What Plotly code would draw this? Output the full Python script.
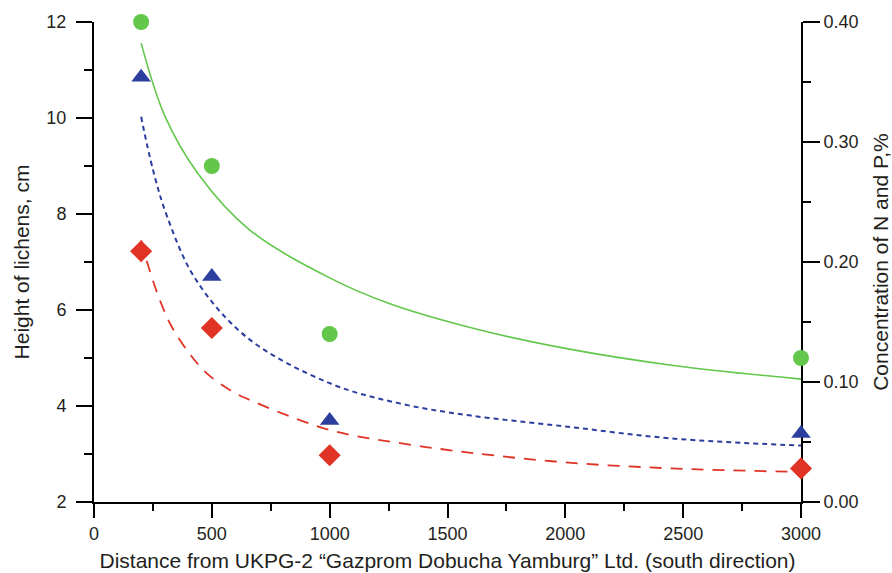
import plotly.graph_objects as go

# Measured points
distance = [200, 500, 1000, 3000]
height_lichens = [12.0, 9.0, 5.5, 5.0]          # left axis, cm
conc_blue = [0.354, 0.188, 0.068, 0.057]        # right axis, %
conc_red = [0.209, 0.145, 0.039, 0.028]         # right axis, %

# Trend curves
green_fit_x = [200, 300, 440, 660, 1000, 1250, 1600, 2000, 2450, 3000]
green_fit_y = [11.56, 10.05, 8.85, 7.67, 6.67, 6.14, 5.63, 5.2, 4.85, 4.56]
blue_fit_x = [200, 250, 310, 430, 650, 1000, 1300, 1600, 2000, 2450, 3000]
blue_fit_y = [0.321, 0.277, 0.238, 0.186, 0.137, 0.099, 0.082, 0.072, 0.063, 0.053, 0.047]
red_fit_x = [200, 225, 280, 330, 400, 480, 580, 650, 1000, 1300, 1600, 2000, 2450, 3000]
red_fit_y = [0.218, 0.200, 0.168, 0.146, 0.125, 0.107, 0.093, 0.086, 0.060, 0.049,
             0.041, 0.033, 0.028, 0.025]

x_ticks = [0, 500, 1000, 1500, 2000, 2500, 3000]
left_ticks = [2, 4, 6, 8, 10, 12]
right_ticks = [0.0, 0.1, 0.2, 0.3, 0.4]

GREEN = "#62c74b"
BLUE = "#2c3f9e"
RED = "#e03325"
FONT = "Liberation Sans, Arial, sans-serif"

fig = go.Figure()

fig.add_trace(go.Scatter(x=green_fit_x, y=green_fit_y, mode="lines", yaxis="y",
                         line=dict(color=GREEN, width=1.6, shape="spline"),
                         showlegend=False, hoverinfo="skip"))
fig.add_trace(go.Scatter(x=blue_fit_x, y=blue_fit_y, mode="lines", yaxis="y2",
                         line=dict(color=BLUE, width=2, shape="spline", dash="5px,4px"),
                         showlegend=False, hoverinfo="skip"))
fig.add_trace(go.Scatter(x=red_fit_x, y=red_fit_y, mode="lines", yaxis="y2",
                         line=dict(color=RED, width=1.8, shape="spline", dash="12px,9px"),
                         showlegend=False, hoverinfo="skip"))

fig.add_trace(go.Scatter(x=distance, y=height_lichens, mode="markers", yaxis="y",
                         marker=dict(symbol="circle", size=16, color=GREEN),
                         cliponaxis=False, showlegend=False))
fig.add_trace(go.Scatter(x=distance, y=conc_blue, mode="markers", yaxis="y2",
                         marker=dict(symbol="triangle-up", size=17, color=BLUE),
                         cliponaxis=False, showlegend=False))
fig.add_trace(go.Scatter(x=distance, y=conc_red, mode="markers", yaxis="y2",
                         marker=dict(symbol="diamond", size=17, color=RED),
                         cliponaxis=False, showlegend=False))

axis_common = dict(showgrid=False, zeroline=False, showline=True, linecolor="black",
                   linewidth=2, ticks="outside", tickcolor="black", tickwidth=1.5,
                   tickfont=dict(family=FONT, size=18, color="#231f20"),
                   layer="below traces", automargin=False)

fig.update_layout(
    width=892, height=573,
    margin=dict(l=94, r=91, t=22, b=71),
    paper_bgcolor="white", plot_bgcolor="white",
    font=dict(family=FONT, color="#231f20"),
    xaxis=dict(range=[0, 3000], tickvals=x_ticks, ticklen=14,
               minor=dict(dtick=250, ticklen=7, tickcolor="black", tickwidth=1.5, ticks="outside"),
               title=dict(text="Distance from UKPG-2 \u201cGazprom Dobucha Yamburg\u201d Ltd. (south direction)",
                          font=dict(family=FONT, size=21), standoff=11),
               **axis_common),
    yaxis=dict(range=[2, 12], tickvals=left_ticks, ticklen=16,
               minor=dict(dtick=1, ticklen=8, tickcolor="black", tickwidth=1.5, ticks="outside"),
               title=dict(text="Height of lichens, cm", font=dict(family=FONT, size=21), standoff=11),
               ticklabelstandoff=6,
               **axis_common),
    yaxis2=dict(range=[0, 0.4], tickvals=right_ticks, tickformat=".2f", ticklen=17,
                overlaying="y", side="right", anchor="x",
                minor=dict(dtick=0.05, ticklen=8, tickcolor="black", tickwidth=1.5, ticks="outside"),
                title=dict(text="Concentration of N and P,%", font=dict(family=FONT, size=21), standoff=18),
                **axis_common),
)

fig.write_html("out.html")
